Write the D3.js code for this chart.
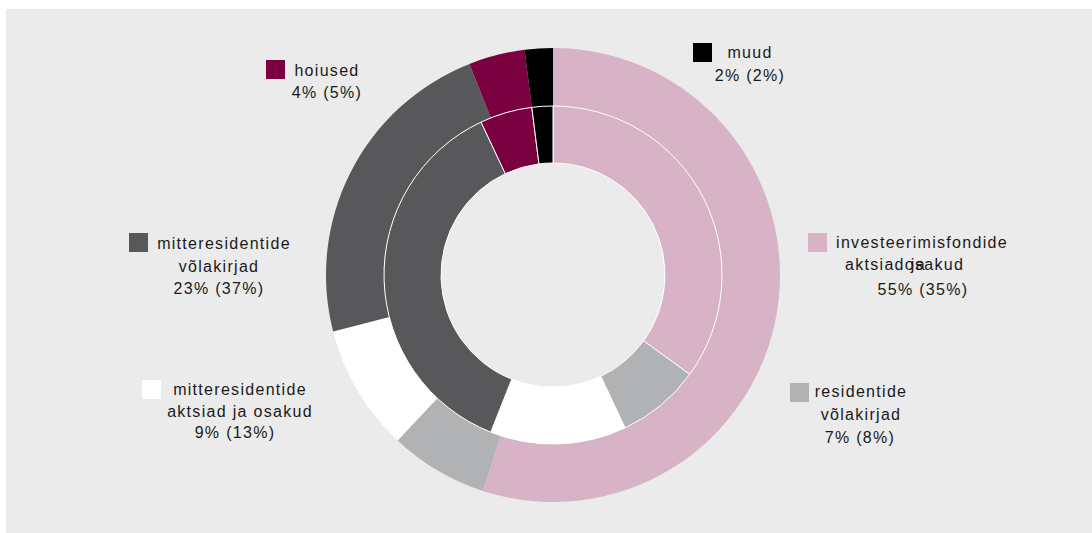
<!DOCTYPE html>
<html>
<head>
<meta charset="utf-8">
<script src="https://cdn.jsdelivr.net/npm/d3@7"></script>
<style>
  html, body { margin: 0; padding: 0; background: #ffffff; }
  svg { display: block; }
  text { font-family: "Liberation Sans", Arial, Helvetica, sans-serif; font-size: 16px; fill: #1a1a1a; letter-spacing: 1.3px; }
</style>
</head>
<body>
<svg id="chart" width="1092" height="533"></svg>
<script>
// Portfolio structure: outer ring = current year, inner ring = previous year (in brackets)
const categories = [
  "investeerimisfondide aktsiad ja osakud",
  "residentide võlakirjad",
  "mitteresidentide aktsiad ja osakud",
  "mitteresidentide võlakirjad",
  "hoiused",
  "muud"
];
const outerValues = [55, 7, 9, 23, 4, 2];
const innerValues = [35, 8, 13, 37, 5, 2];
const labelLines = [
  ["investeerimisfondide", "aktsiad ja osakud"],
  ["residentide", "võlakirjad"],
  ["mitteresidentide", "aktsiad ja osakud"],
  ["mitteresidentide", "võlakirjad"],
  ["hoiused"],
  ["muud"]
];
const colors = ["#d8b3c5", "#b1b2b4", "#ffffff", "#58585a", "#7b003f", "#000000"];

// Label placement: swatch corner and per-line centre x / baseline y
const labelLayout = [
  { sx: 808, sy: 233, lines: [[922, 248], [905, 270], [923, 295]] },
  { sx: 790, sy: 383, lines: [[861, 397], [861, 420], [860, 443]] },
  { sx: 142, sy: 380, lines: [[240, 395], [240, 417], [235, 438]] },
  { sx: 129, sy: 233, lines: [[224, 249], [219, 272], [219, 294]] },
  { sx: 266, sy: 60,  lines: [[327, 76], [327, 98]] },
  { sx: 693, sy: 43,  lines: [[750, 58], [750, 81]] }
];

const W = 1092, H = 533;
const cx = 553, cy = 275;
const svg = d3.select("#chart");

// panel background
svg.append("rect").attr("x", 6).attr("y", 9).attr("width", W - 6).attr("height", H - 9).attr("fill", "#ebebeb");

const pie = d3.pie().sort(null).value(d => d).startAngle(0).endAngle(2 * Math.PI);
const outerArc = d3.arc().innerRadius(169).outerRadius(227);
const innerArc = d3.arc().innerRadius(112).outerRadius(169);

const g = svg.append("g").attr("transform", `translate(${cx},${cy})`);

g.append("g").selectAll("path")
  .data(pie(outerValues))
  .join("path")
  .attr("d", outerArc)
  .attr("fill", (d, i) => colors[i]);

g.append("g").selectAll("path")
  .data(pie(innerValues))
  .join("path")
  .attr("d", innerArc)
  .attr("fill", (d, i) => colors[i])
  .attr("stroke", "#ffffff")
  .attr("stroke-width", 1);

// labels
categories.forEach((name, i) => {
  const L = labelLayout[i];
  svg.append("rect").attr("x", L.sx).attr("y", L.sy)
    .attr("width", 19).attr("height", 19).attr("fill", colors[i]);
  const lines = labelLines[i].concat([`${outerValues[i]}% (${innerValues[i]}%)`]);
  lines.forEach((t, j) => {
    const [x, y] = L.lines[j];
    if (i === 0 && j === 1) {
      // this line is set as three pieces: "aktsiad", "osakud" and "ja" laid over it
      const words = t.split(" ");
      const x0 = 845;
      const a = svg.append("text").attr("x", x0).attr("y", y).text(words[0]);
      const w = a.node().getComputedTextLength();
      svg.append("text").attr("x", x0 + w).attr("y", y).text(words[2]);
      svg.append("text").attr("x", x0 + w + 6).attr("y", y).text(words[1]);
    } else {
      svg.append("text").attr("x", x).attr("y", y).attr("text-anchor", "middle").text(t);
    }
  });
});
</script>
</body>
</html>
